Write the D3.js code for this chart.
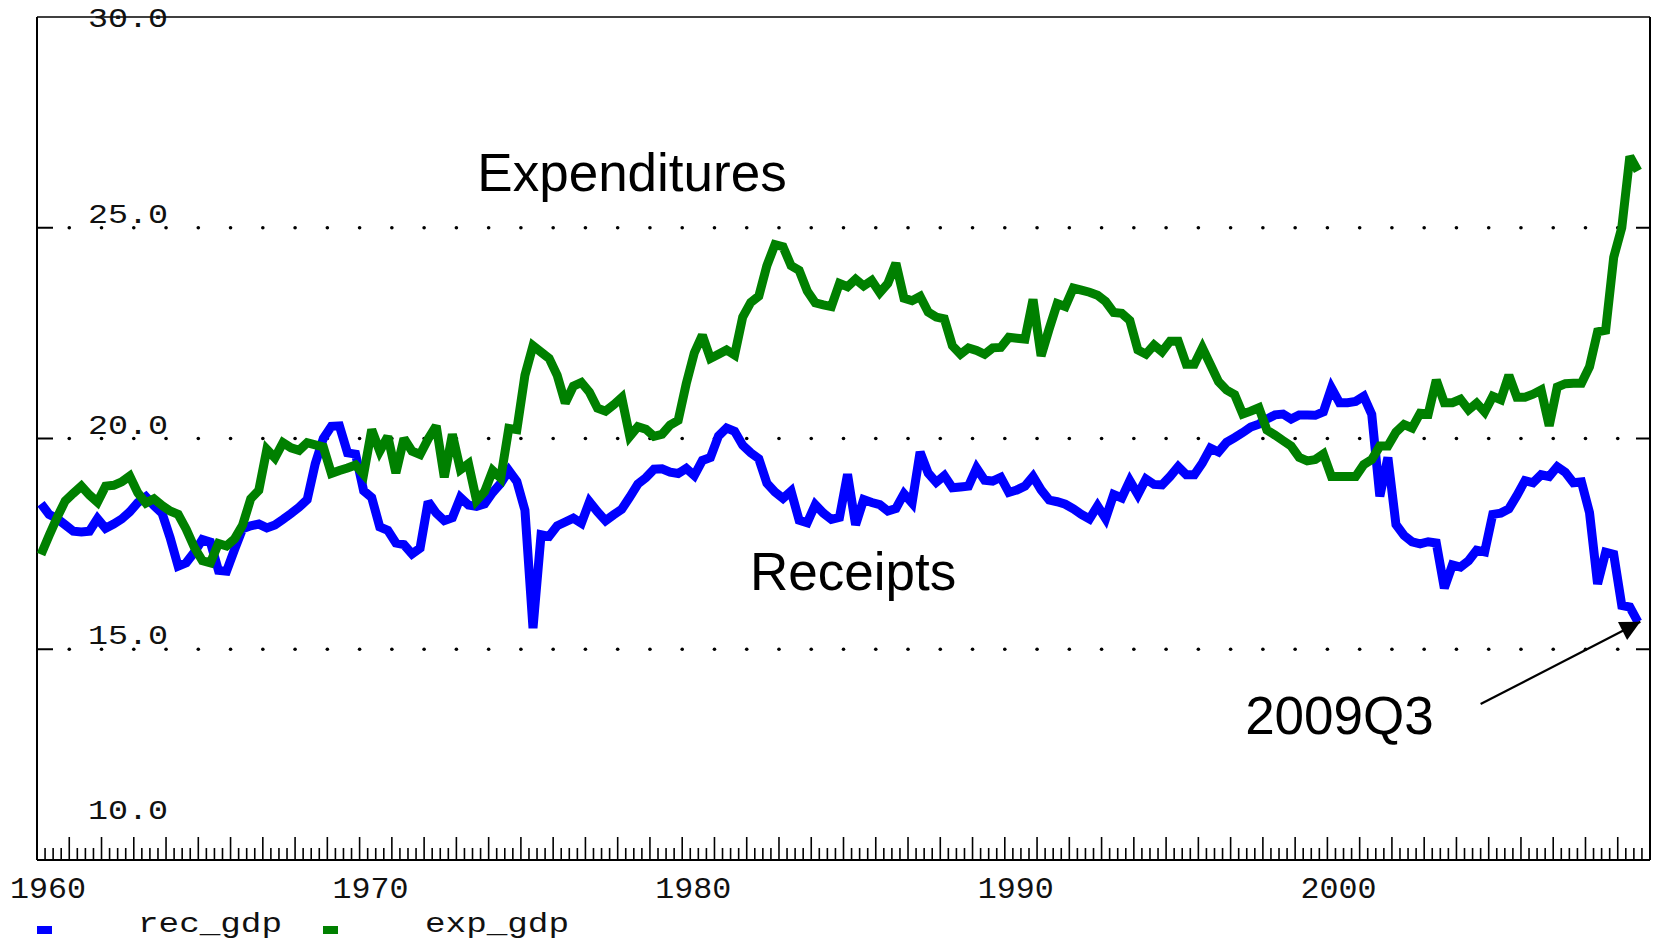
<!DOCTYPE html>
<html>
<head>
<meta charset="utf-8">
<script src="https://cdn.jsdelivr.net/npm/d3@7"></script>
<style>
  body { margin: 0; background: #fff; }
</style>
</head>
<body>
<div id="chart"></div>
<script>
// quarterly, 1960Q1 .. 2009Q3, percent of GDP
const firstYear = 1960

const receipts = [
  18.45, 18.2, 18.1, 17.95, 17.8, 17.78, 17.8, 18.1, 17.87, 17.97,
  18.09, 18.26, 18.48, 18.62, 18.41, 18.23, 17.65, 16.97, 17.05, 17.3,
  17.6, 17.54, 16.87, 16.85, 17.37, 17.86, 17.93, 17.97, 17.88, 17.95,
  18.08, 18.22, 18.37, 18.55, 19.4, 20.0, 20.29, 20.3, 19.66, 19.63,
  18.76, 18.6, 17.9, 17.82, 17.52, 17.48, 17.26, 17.4, 18.5, 18.23,
  18.05, 18.12, 18.6, 18.42, 18.39, 18.45, 18.72, 18.94, 19.24, 18.98,
  18.3, 15.5, 17.72, 17.68, 17.93, 18.02, 18.11, 17.99, 18.5, 18.26,
  18.05, 18.19, 18.32, 18.61, 18.92, 19.07, 19.27, 19.28, 19.2, 19.17,
  19.29, 19.12, 19.48, 19.55, 20.06, 20.25, 20.17, 19.84, 19.66, 19.52,
  18.94, 18.73, 18.58, 18.75, 18.06, 18.0, 18.43, 18.23, 18.08, 18.13,
  19.15, 17.95, 18.55, 18.48, 18.43, 18.28, 18.34, 18.69, 18.47, 19.68,
  19.18, 18.96, 19.12, 18.83, 18.85, 18.87, 19.3, 19.01, 18.99, 19.08,
  18.72, 18.78, 18.87, 19.1, 18.78, 18.54, 18.5, 18.44, 18.33, 18.2,
  18.09, 18.4, 18.1, 18.67, 18.59, 19.0, 18.67, 19.04, 18.91, 18.9,
  19.1, 19.33, 19.14, 19.14, 19.42, 19.77, 19.68, 19.91, 20.02, 20.14,
  20.27, 20.34, 20.46, 20.56, 20.58, 20.46, 20.56, 20.56, 20.55, 20.63,
  21.2, 20.85, 20.85, 20.88, 21.0, 20.57, 18.63, 19.55, 17.96, 17.7,
  17.55, 17.5, 17.55, 17.52, 16.45, 17.0, 16.95, 17.1, 17.35, 17.31,
  18.2, 18.23, 18.33, 18.65, 19.0, 18.95, 19.14, 19.1, 19.33, 19.2,
  18.95, 18.97, 18.24, 16.55, 17.3, 17.25, 16.04, 16.0, 15.65
]

const expenditures = [
  17.25, 17.7, 18.13, 18.52, 18.7, 18.87, 18.66, 18.49, 18.87, 18.89,
  18.97, 19.11, 18.71, 18.47, 18.57, 18.41, 18.28, 18.2, 17.85, 17.42,
  17.1, 17.05, 17.51, 17.45, 17.62, 17.95, 18.57, 18.77, 19.74, 19.54,
  19.9, 19.78, 19.72, 19.9, 19.85, 19.8, 19.17, 19.24, 19.3, 19.37,
  19.15, 20.21, 19.7, 20.05, 19.18, 20.0, 19.7, 19.62, 19.99, 20.3,
  19.08, 20.1, 19.26, 19.4, 18.53, 18.74, 19.24, 19.06, 20.24, 20.21,
  21.5, 22.2, 22.05, 21.9, 21.5, 20.84, 21.24, 21.33, 21.1, 20.72,
  20.65, 20.8, 20.97, 20.05, 20.28, 20.22, 20.05, 20.1, 20.32, 20.43,
  21.3, 22.03, 22.45, 21.9, 22.0, 22.1, 21.98, 22.88, 23.23, 23.38,
  24.1, 24.6, 24.55, 24.1, 23.99, 23.5, 23.22, 23.17, 23.13, 23.68,
  23.6, 23.78, 23.62, 23.75, 23.46, 23.68, 24.16, 23.33, 23.27, 23.37,
  23.0, 22.88, 22.84, 22.2, 22.0, 22.15, 22.09, 22.0, 22.15, 22.16,
  22.4, 22.38, 22.36, 23.3, 21.96, 22.6, 23.2, 23.13, 23.57, 23.52,
  23.47, 23.4, 23.25, 22.99, 22.97, 22.8, 22.1, 22.0, 22.22, 22.06,
  22.31, 22.31, 21.76, 21.76, 22.15, 21.75, 21.35, 21.15, 21.04, 20.58,
  20.65, 20.73, 20.2, 20.08, 19.95, 19.82, 19.55, 19.47, 19.5, 19.63,
  19.1, 19.1, 19.1, 19.1, 19.38, 19.5, 19.82, 19.82, 20.15, 20.33,
  20.25, 20.6, 20.58, 21.39, 20.85, 20.85, 20.93, 20.68, 20.84, 20.63,
  21.0, 20.92, 21.5, 20.98, 20.98, 21.05, 21.15, 20.3, 21.22, 21.3,
  21.31, 21.31, 21.7, 22.53, 22.57, 24.3, 25.0, 26.69, 26.35
]

const yTickValues = [10, 15, 20, 25, 30]
const xLabelYears = [1960, 1970, 1980, 1990, 2000]
const seriesNames = ["rec_gdp", "exp_gdp"]

const width = 1661
const height = 944
const plotLeft = 37, plotRight = 1650, plotTop = 17, plotBottom = 860

const svg = d3.select("#chart")
    .append("svg")
    .attr("width", width)
    .attr("height", height)

const x = d3.scaleLinear().domain([1960, 2010]).range([plotLeft, plotRight])
const y = d3.scaleLinear().domain([10, 30]).range([plotBottom, plotTop])

// each quarter sits in the middle of its quarter
const quarterDate = i => firstYear + i / 4 + 0.125

const blue = "#0000ff"
const green = "#008000"

// dotted grid lines, one dot per year
const innerTicks = yTickValues.filter(v => v > 10 && v < 30)
const years = d3.range(1961, 2010)

innerTicks.forEach(v => {
    svg.append("g")
        .selectAll("circle")
        .data(years)
        .enter()
        .append("circle")
        .attr("cx", d => x(d))
        .attr("cy", y(v))
        .attr("r", 1.8)
        .attr("fill", "#000")

    svg.append("line")
        .attr("x1", plotLeft).attr("x2", plotLeft + 16)
        .attr("y1", y(v)).attr("y2", y(v))
        .attr("stroke", "#000").attr("stroke-width", 2)
    svg.append("line")
        .attr("x1", plotRight - 14).attr("x2", plotRight)
        .attr("y1", y(v)).attr("y2", y(v))
        .attr("stroke", "#000").attr("stroke-width", 2)
})

// x ticks: tall every year, short every quarter
const quarterTicks = d3.range(1960, 2010, 0.25).filter(d => d > 1960)
svg.append("g")
    .selectAll("line")
    .data(quarterTicks)
    .enter()
    .append("line")
    .attr("x1", d => x(d))
    .attr("x2", d => x(d))
    .attr("y1", plotBottom)
    .attr("y2", d => Number.isInteger(d) ? plotBottom - 23 : plotBottom - 12)
    .attr("stroke", "#000")
    .attr("stroke-width", 1.6)

// frame
svg.append("line").attr("x1", plotLeft).attr("x2", plotRight).attr("y1", plotTop).attr("y2", plotTop)
    .attr("stroke", "#000").attr("stroke-width", 1.5)
svg.append("line").attr("x1", plotLeft).attr("x2", plotRight).attr("y1", plotBottom).attr("y2", plotBottom)
    .attr("stroke", "#000").attr("stroke-width", 2)
svg.append("line").attr("x1", plotLeft).attr("x2", plotLeft).attr("y1", plotTop).attr("y2", plotBottom)
    .attr("stroke", "#000").attr("stroke-width", 2)
svg.append("line").attr("x1", plotRight).attr("x2", plotRight).attr("y1", plotTop).attr("y2", plotBottom)
    .attr("stroke", "#000").attr("stroke-width", 2)

// y labels sit just above their line (edges handled apart)
const labelBaseline = v => {
    if (v === 30) return y(v) + 10
    if (v === 10) return y(v) - 41
    return y(v) - 5
}

svg.append("g")
    .selectAll("text")
    .data(yTickValues)
    .enter()
    .append("text")
    .attr("x", 88)
    .attr("y", d => labelBaseline(d))
    .attr("font-family", "Liberation Mono, monospace")
    .attr("font-size", 27)
    .attr("fill", "#111")
    .attr("textLength", 80)
    .attr("lengthAdjust", "spacingAndGlyphs")
    .text(d => d.toFixed(1))

svg.append("g")
    .selectAll("text")
    .data(xLabelYears)
    .enter()
    .append("text")
    .attr("x", d => x(d) + 11)
    .attr("y", 898)
    .attr("text-anchor", "middle")
    .attr("font-family", "Liberation Mono, monospace")
    .attr("font-size", 29)
    .attr("fill", "#111")
    .attr("textLength", 76)
    .attr("lengthAdjust", "spacingAndGlyphs")
    .text(d => d)

// the two series
const line = d3.line()
    .x((d, i) => x(quarterDate(i)))
    .y(d => y(d))

const drawSeries = (data, color) => {
    svg.append("path")
        .datum(data)
        .attr("d", line)
        .attr("fill", "none")
        .attr("stroke", color)
        .attr("stroke-width", 9)
        .attr("stroke-linejoin", "miter")
        .attr("stroke-miterlimit", 2.5)
}

drawSeries(receipts, blue)
drawSeries(expenditures, green)

// annotations
const note = (txt, yr, v) => {
    svg.append("text")
        .attr("x", x(yr))
        .attr("y", y(v))
        .attr("font-family", "Liberation Sans, Arial, sans-serif")
        .attr("font-size", 53)
        .text(txt)
}
note("Expenditures", 1973.65, 25.87)
note("Receipts", 1982.1, 16.41)
note("2009Q3", 1997.45, 12.98)

svg.append("defs")
    .append("marker")
    .attr("id", "head")
    .attr("viewBox", "0 0 10 10")
    .attr("refX", 10)
    .attr("refY", 5)
    .attr("markerWidth", 22)
    .attr("markerHeight", 20)
    .attr("markerUnits", "userSpaceOnUse")
    .attr("orient", "auto")
    .append("path")
    .attr("d", "M0,0 L10,5 L0,10 Z")
    .attr("fill", "#000")

svg.append("line")
    .attr("x1", x(2004.75))
    .attr("y1", y(13.7))
    .attr("x2", x(2009.7))
    .attr("y2", y(15.65))
    .attr("stroke", "#000")
    .attr("stroke-width", 2.2)
    .attr("marker-end", "url(#head)")

// legend
const legendX = [37, 323]
const legendTextX = [138, 425]
seriesNames.forEach((name, i) => {
    svg.append("rect")
        .attr("x", legendX[i])
        .attr("y", 926)
        .attr("width", 15)
        .attr("height", 8)
        .attr("fill", i === 0 ? blue : green)
    svg.append("text")
        .attr("x", legendTextX[i])
        .attr("y", 932)
        .attr("font-family", "Liberation Mono, monospace")
        .attr("font-size", 28)
        .attr("fill", "#111")
        .attr("textLength", 144)
        .attr("lengthAdjust", "spacingAndGlyphs")
        .text(name)
})
</script>
</body>
</html>
